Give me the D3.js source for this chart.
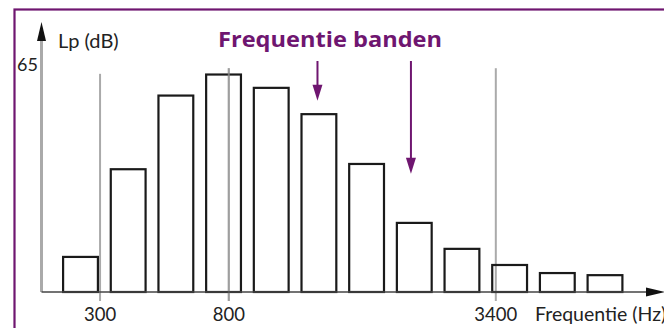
<!DOCTYPE html>
<html>
<head>
<meta charset="utf-8">
<script src="https://cdn.jsdelivr.net/npm/d3@7"></script>
<style>
  html, body { margin: 0; padding: 0; background: #fff; overflow: hidden; }
  svg { display: block; font-family: Lato, "Open Sans", sans-serif; }
</style>
</head>
<body>
<svg id="chart"></svg>
<script>
// band levels in dB, left to right
let bands = d3.range(12)
let levels = [10, 35, 56, 62, 58.2, 50.7, 36.5, 19.7, 12.3, 7.7, 5.4, 4.8]

// frequency markers, placed in band units
let freqLabels = ['300', '800', '3400']
let freqPos = [0.41, 3.11, 8.71]
let freqTop = [62.2, 63.8, 63.8] // dB at top of the marker line

let yTicks = [65]
let arrowPos = [4.97, 6.93]
let arrowTip = [54.5, 33.7] // dB level where the arrow tip ends

let width = 664,
    height = 328,
    purple = '#6f1670',
    axisY = 292

let $svg = d3.select('#chart')
    .attr('width', width)
    .attr('height', height)

let x = d3.scaleLinear()
    .domain([0, bands.length - 1])
    .range([80.5, 605])

let step = x(1) - x(0),
    barW = step * 0.73

let y = d3.scaleLinear()
    .domain([0, 65])
    .range([axisY, 64])

// frame
$svg.append('rect')
    .attr('x', 14.5).attr('y', 9.5)
    .attr('width', 700).attr('height', 400)
    .attr('fill', 'none')
    .attr('stroke', purple)
    .attr('stroke-width', 2.2)

// frequency marker lines
$svg.selectAll('line.freq').data(freqPos)
    .join('line')
    .attr('class', 'freq')
    .attr('x1', d => x(d)).attr('x2', d => x(d))
    .attr('y1', (d, i) => y(freqTop[i]))
    .attr('y2', axisY + 9)
    .attr('stroke', '#aaa')
    .attr('stroke-width', 2)

// bars
$svg.selectAll('rect.bar').data(levels)
    .join('rect')
    .attr('class', 'bar')
    .attr('x', (d, i) => x(bands[i]) - barW / 2)
    .attr('y', d => y(d))
    .attr('width', barW)
    .attr('height', d => axisY - y(d))
    .attr('fill', 'none')
    .attr('stroke', '#1a1a1a')
    .attr('stroke-width', 2.2)

// redraw the 800 marker over the bars (it shows through)
$svg.append('line')
    .attr('x1', x(freqPos[1])).attr('x2', x(freqPos[1]))
    .attr('y1', y(freqTop[1])).attr('y2', axisY + 9)
    .attr('stroke', '#999')
    .attr('stroke-opacity', 0.7)
    .attr('stroke-width', 2)

// axes
$svg.append('line')
    .attr('x1', 41.5).attr('x2', 41.5)
    .attr('y1', 36).attr('y2', axisY)
    .attr('stroke', '#aaa')
    .attr('stroke-width', 3)
$svg.append('path')
    .attr('d', `M41.5,22 L46,41 L37,41 Z`)
    .attr('fill', '#111')

$svg.append('line')
    .attr('x1', 41.5).attr('x2', 650)
    .attr('y1', axisY).attr('y2', axisY)
    .attr('stroke', '#444')
    .attr('stroke-width', 1.6)
$svg.append('path')
    .attr('d', `M665,${axisY} L646,${axisY - 4.5} L646,${axisY + 4.5} Z`)
    .attr('fill', '#111')

// tick labels
$svg.selectAll('text.xt').data(freqLabels)
    .join('text')
    .attr('class', 'xt')
    .attr('x', (d, i) => x(freqPos[i]))
    .attr('y', 321)
    .attr('text-anchor', 'middle')
    .attr('font-size', 18.5)
    .attr('fill', '#222')
    .text(d => d)

$svg.selectAll('text.yt').data(yTicks)
    .join('text')
    .attr('class', 'yt')
    .attr('x', 38)
    .attr('y', d => y(d) + 7)
    .attr('text-anchor', 'end')
    .attr('font-size', 18)
    .attr('fill', '#222')
    .text(d => d)

$svg.append('text')
    .attr('x', 58).attr('y', 48)
    .attr('font-size', 20)
    .attr('fill', '#222')
    .text('Lp (dB)')

$svg.append('text')
    .attr('x', 535).attr('y', 321)
    .attr('font-size', 19.5)
    .attr('fill', '#222')
    .text('Frequentie (Hz)')

// title and arrows
$svg.append('text')
    .attr('x', 218).attr('y', 47)
    .attr('font-family', '"Open Sans", Lato, sans-serif')
    .attr('font-size', 21)
    .attr('font-weight', 'bold')
    .attr('textLength', 224)
    .attr('lengthAdjust', 'spacingAndGlyphs')
    .attr('fill', purple)
    .text('Frequentie banden')

arrowPos.forEach((p, i) => {
    let ax = x(p),
        tip = y(arrowTip[i])
    $svg.append('line')
        .attr('x1', ax).attr('x2', ax)
        .attr('y1', 61).attr('y2', tip - 10)
        .attr('stroke', purple)
        .attr('stroke-width', 2)
    $svg.append('path')
        .attr('d', `M${ax},${tip} L${ax - 5},${tip - 16} L${ax + 5},${tip - 16} Z`)
        .attr('fill', purple)
})
</script>
</body>
</html>
